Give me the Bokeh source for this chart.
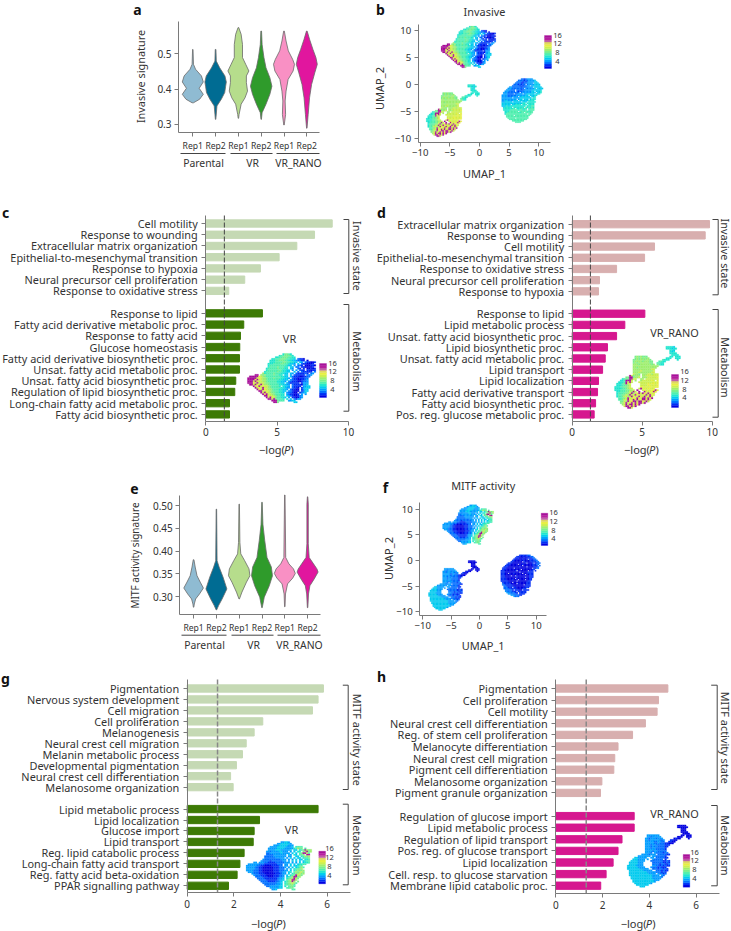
from bokeh.plotting import figure
from bokeh.layouts import column, row
from bokeh.models import Range1d, FixedTicker, Label, LinearColorMapper, ColumnDataSource, PrintfTickFormatter
from bokeh.embed import file_html
from bokeh.resources import INLINE

FONT = "Noto Sans"
INK = "#333333"
AXIS = "#7a7a7a"

# ---------- violin data (signature value, half width) ----------
GROUPS = ["Parental", "VR", "VR_RANO"]
REPS = ["Rep1", "Rep2", "Rep1", "Rep2", "Rep1", "Rep2"]
VIOLIN_COLORS = ["#8FBBD2", "#006C93", "#B6DD8C", "#2F9B2B", "#F990C4", "#E1169E"]

INV_VALS = [
    [.512, .470, .456, .437, .420, .402, .385, .371, .361],
    [.512, .479, .460, .437, .420, .408, .390, .371, .352, .314],
    [.574, .555, .526, .489, .470, .451, .437, .418, .394, .375, .357, .328, .317],
    [.564, .526, .489, .460, .432, .408, .385, .357, .333, .314],
    [.564, .536, .508, .484, .470, .451, .427, .394, .366, .328, .298],
    [.564, .541, .512, .489, .470, .446, .413, .375, .328, .289],
]
INV_WIDTHS = [
    [.01, .03, .12, .38, .46, .28, .46, .30, .03],
    [.015, .03, .18, .41, .47, .44, .40, .25, .06, .01],
    [.015, .12, .18, .18, .32, .46, .35, .35, .40, .29, .12, .03, .01],
    [.015, .04, .12, .21, .38, .47, .38, .21, .04, .01],
    [.015, .09, .19, .38, .46, .40, .18, .09, .05, .07, .01],
    [.015, .12, .27, .40, .46, .35, .21, .12, .06, .01],
]
MITF_VALS = [
    [.381, .365, .346, .332, .319, .306, .295, .284, .277],
    [.492, .379, .365, .343, .317, .295, .281, .271],
    [.503, .419, .394, .379, .361, .346, .332, .310, .295],
    [.507, .459, .423, .386, .365, .346, .324, .299, .276],
    [.523, .386, .372, .361, .351, .341, .328, .306, .278],
    [.519, .503, .416, .386, .372, .361, .354, .339, .324, .306, .276],
]
MITF_WIDTHS = [
    [.015, .07, .15, .29, .43, .26, .09, .03, .01],
    [.01, .03, .12, .29, .46, .25, .10, .01],
    [.01, .03, .07, .24, .43, .47, .32, .12, .01],
    [.01, .04, .12, .22, .41, .46, .32, .10, .01],
    [.01, .04, .18, .38, .46, .35, .12, .03, .01],
    [.01, .03, .03, .07, .26, .41, .46, .29, .10, .04, .01],
]

# ---------- bar data ----------
C_TERMS_A = ["Cell motility", "Response to wounding", "Extracellular matrix organization",
             "Epithelial-to-mesenchymal transition", "Response to hypoxia",
             "Neural precursor cell proliferation", "Response to oxidative stress"]
C_VALUES_A = [8.86, 7.62, 6.38, 5.14, 3.83, 2.73, 1.61]
C_TERMS_B = ["Response to lipid", "Fatty acid derivative metabolic proc.", "Response to fatty acid",
             "Glucose homeostasis", "Fatty acid derivative biosynthetic proc.",
             "Unsat. fatty acid metabolic proc.", "Unsat. fatty acid biosynthetic proc.",
             "Regulation of lipid biosynthetic proc.", "Long-chain fatty acid metabolic proc.",
             "Fatty acid biosynthetic proc."]
C_VALUES_B = [3.97, 2.66, 2.43, 2.38, 2.36, 2.36, 2.10, 2.03, 1.66, 1.66]

D_TERMS_A = ["Extracellular matrix organization", "Response to wounding", "Cell motility",
             "Epithelial-to-mesenchymal transition", "Response to oxidative stress",
             "Neural precursor cell proliferation", "Response to hypoxia"]
D_VALUES_A = [9.81, 9.5, 5.88, 5.17, 3.17, 1.95, 1.88]
D_TERMS_B = ["Response to lipid", "Lipid metabolic process", "Unsat. fatty acid biosynthetic proc.",
             "Lipid biosynthetic proc.", "Unsat. fatty acid metabolic proc.", "Lipid transport",
             "Lipid localization", "Fatty acid derivative transport", "Fatty acid biosynthetic proc.",
             "Pos. reg. glucose metabolic proc."]
D_VALUES_B = [5.19, 3.76, 3.17, 2.52, 2.36, 2.17, 1.88, 1.81, 1.67, 1.57]

G_TERMS_A = ["Pigmentation", "Nervous system development", "Cell migration", "Cell proliferation",
             "Melanogenesis", "Neural crest cell migration", "Melanin metabolic process",
             "Developmental pigmentation", "Neural crest cell differentiation", "Melanosome organization"]
G_VALUES_A = [5.84, 5.61, 5.37, 3.24, 2.87, 2.53, 2.37, 2.11, 1.86, 1.97]
G_TERMS_B = ["Lipid metabolic process", "Lipid localization", "Glucose import", "Lipid transport",
             "Reg. lipid catabolic process", "Long-chain fatty acid transport",
             "Reg. fatty acid beta-oxidation", "PPAR signalling pathway"]
G_VALUES_B = [5.61, 3.10, 2.87, 2.83, 2.44, 2.26, 2.14, 1.77]

H_TERMS_A = ["Pigmentation", "Cell proliferation", "Cell motility", "Neural crest cell differentiation",
             "Reg. of stem cell proliferation", "Melanocyte differentiation", "Neural crest cell migration",
             "Pigment cell differentiation", "Melanosome organization", "Pigment granule organization"]
H_VALUES_A = [4.79, 4.39, 4.33, 3.83, 3.28, 2.66, 2.52, 2.48, 1.97, 1.91]
H_TERMS_B = ["Regulation of glucose import", "Lipid metabolic process", "Regulation of lipid transport",
             "Pos. reg. of glucose transport", "Lipid localization", "Cell. resp. to glucose starvation",
             "Membrane lipid catabolic proc."]
H_VALUES_B = [3.35, 3.35, 2.83, 2.66, 2.45, 2.15, 1.92]

GREEN_LIGHT, GREEN_DARK = "#C5D9B4", "#3D7A05"
ROSE_LIGHT, ROSE_DARK = "#D8AFAF", "#D6178F"

# ---------- UMAP maps: score per quarter-unit cell, read by eye (2..9, a..g = 10..16) ----------
INV_TOP = [
    "                     79987",
    "                   78899987",
    "                 77889998877",
    "               7788899988776 4332",
    "              7778899988776654433 2",
    "              777888899887766 65 433223",
    "             777888899887665 6 4332223",
    "             7888888888766 5 443 222332",
    "             78888988877 66 44 3322223",
    "            788888988877 65  43 3 22323",
    "            7888888987766 5 5 433 33233",
    "           78888889887766  6 4 433333 4",
    "          a7888898887766 65 4333343 45",
    "      gg a9a888898877 66 5 433333 445",
    "   gggggcba9888888887766 64333223344",
    "  gggggbcbaa9888988877665 433233344",
    "  ggggcgbbaa988888877666 5433223345",
    "  gggbgcbbaa98888877665 54333223445",
    "  gggcbgbbba9988887766 6433333 3555",
    "   ggbgcbgbaa988888776655 433332556",
    "     gbcgbcbba988887 7665 43333 5566",
    "      gbcbgbba98888877655 4332 35666",
    "       gcbgcbaa988877665 43322 3566",
    "        ggbcbba98887766 543222 3466",
    "         gbgcba9988776 544322 3456",
    "          gcgbba988877 5433223 5 5",
    "           ggcbba98877 654322345",
    "            gbgcb988776 5 332245",
    "             ggbg98887 7 6 4355",
    "               ggg9888  5566",
    "                gg9        66",
]
INV_BOT = [
    "                              77776",
    "                              777677",
    "                                776",
    "                                767",
    "                                7777",
    "                                 7777",
    "             9a9a999            77 777",
    "             9a9a9a9a         777  777",
    "            99a9aa9aa9      8777    7",
    "            9aaaa9aaa99   8877",
    "            9a9aaaaaa99  8877",
    "            aaa9aaaaaa9a 9877",
    "            aaaaaaaaaaaaaa",
    "            aa9aaaaaaaaaa",
    "            aaaaaaaaaabb",
    "            aaaabaaaaaab",
    "            aaabaaaaaabb",
    "            baa9 aaabbabbb",
    "          gb9aaa aabbbbbbb",
    "        99gg9aab aaabbbbbc",
    "      7899ggbb  aa bbbbbbb",
    "     778gggb a  abbbbbcb c",
    "    7778gbgb   bbbbbbbbcbc",
    "   77789gbb     bbbbcbccbc",
    "   777889ab     bbbbccbcbc",
    "  7778899ab     ccbcbccbcc",
    "  7777889abb   bgbcbccbc",
    "  77788899aab g  bcbcbccgc",
    "   7788899bagb g  gcbccgc",
    "   788899abgabcgbgcbgcbc",
    "   78899bagbbgcbbbcgbgcb",
    "   7889bbabgcbbgcbgbcgb",
    "    8899bgbbcbgcbggbgcg",
    "    889bbgcbgcgbbggcgb",
    "     99bagbcggbggcbgb",
    "     9abgbcgbgcggbg",
    "      abgbggcgcg",
    "       bggcgbg",
    "         ggb",
]
INV_RIGHT = [
    "             44345555",
    "           444434455556",
    "          44443434555566",
    "         444433445555 666",
    "        44434344 455556666",
    "       444443434455 566666",
    "     5544444434445555 66666",
    "    55544444444 5455556 6666",
    "   555444 44434455555666666",
    "  5554444 434445555566 6667",
    " 55544444444 4555555666 667",
    " 5554444 44555 5566666 667",
    "555544444455555566 66667",
    "55554445555 5666666 667",
    "5555555 555566666666 77",
    "5555555555 566 666 6777",
    "55665555666 6666667777",
    "5566666 66666 666 77777",
    "6666666666666677 77777",
    "666666 667777 777 7777",
    "6667667777777777 77788",
    " 677777 7777777 878787",
    " 77777778 7778787 7888",
    " 7777788888788778 8888",
    "  777888888 888888788",
    "  7788888888788 88888",
    "  788888888888888 88",
    "   88888 8888888888",
    "   888888888888888",
    "    88888 88888888",
    "     888888888888",
    "       88888888",
    "         8888",
]
MITF_TOP = [
    "                     55665",
    "                   55666665",
    "                 55566666555",
    "               5555666665556 7888",
    "              5555566665555578a99 8",
    "              5555666555556 66 789ga9a",
    "             554555566555 5 6 77 9ag9a",
    "             4455555565555 6 6 89ggb8",
    "             44445555555 65 76 899 gg",
    "            444445555555 55  66 78a9a",
    "            44444455555 5 6 6 66 7889",
    "           5444444444555 5 5 6 66 778",
    "          54444344444455 5 6 6 6 6788",
    "      55 55544333344444555 5 5 6 6778",
    "   5555554443333333444 55 6 6 67788",
    "  55555544332222333344 55 6 66788",
    "  5555544332222223334445 5 6 678a8",
    "  555554433222222333444 5 6 7889a",
    "  55554443322222233344455 6 78a99a",
    "   555444332222223334455 67 8a9ab9",
    "     5444333222222333455 6 789ab9a",
    "      54443332222333445 6 789gba9",
    "       4444333222333445 678agg9a",
    "        444433333334556 789agb9",
    "         44443333334556 89bgga",
    "          444433334456 789aga 9",
    "           44444444556 789aba8",
    "            4444445556 8899a8",
    "             445555566 7 8998",
    "               5555566  8899",
    "                556        88",
]
MITF_BOT = [
    "                              22222",
    "                              222222",
    "                                222",
    "                                222",
    "                                2222",
    "                                 2222",
    "             5555555            22 222",
    "             55455555         222  222",
    "            5545554555      2322    2",
    "            55455555445   3322",
    "            55555445544  3322",
    "            5555544544433222",
    "            55545544444333",
    "            5554545444433",
    "            555455444443",
    "            555555444443",
    "            555545544444",
    "            5554 54444344",
    "          55554555 4444433",
    "        5555555 55444443",
    "      6655555  55 4444433",
    "     6665555 5  544444 3",
    "    66665555   44444443343",
    "   66666555     4444443343",
    "   66666555     4444344334",
    "  666665555     5544343433",
    "  6666665555   544434333",
    "  666666655555  444344343",
    "   6666666655555  4443433",
    "   666666666655555444343",
    "   666666666665555 54434",
    "   66666666666665555 54",
    "    666666666666555554",
    "    66666666666655555",
    "     666666666666555",
    "     6666666666665",
    "      6666666665",
    "       6666666",
    "         666",
]
MITF_RIGHT = [
    "             33333344",
    "           333232333344",
    "          33322232233344",
    "         3323223223 33344",
    "        332222323222333344",
    "       33222222 32222333344",
    "     3332222222223 2223 3344",
    "    33322222 22322222233344",
    "   333222222222 2222223333 4",
    "  3332222222232222 22223334",
    " 33322222 222222222222 3344",
    " 3332222222222 222222233",
    "33322222223 2222222 233 3",
    "3332222222222 222223333",
    "33322 222322222 2223333",
    "33322222222222222 22333",
    "3332222 22 222222222333",
    "33322222222322222 22333",
    "3333222222 22222222233",
    "333322223222 2222 2233",
    "33333222222 222222233",
    " 3333322 222222222333",
    " 4333332222 322222333",
    " 443333322222222 2333",
    "  4433333222222223333",
    "  444333 33222222333",
    "  4444333332222333",
    "   444443 33322 3333",
    "   54444333 333333",
    "    55444433 33333",
    "     5544443 3333",
    "       55444433",
    "         5444",
]
TOP_ORIGIN, BOT_ORIGIN, RIGHT_ORIGIN = (-6.875, 10.75), (-9.375, -0.125), (3.875, 1.0)
CELL = 0.25
CBAR_LEVELS = list(range(2, 17))
CBAR_LABELS = ["16", "12", "8", "4"]
PALETTE = ["#0000E0", "#0030F5", "#0070FF", "#00A0FF", "#00CCF0", "#20E8D0", "#50F0B0", "#78F090",
           "#A0F070", "#CCF050", "#E8F040", "#E0D860", "#C060A8", "#B8209F", "#A8109A"]
MAPPER = LinearColorMapper(palette=PALETTE, low=2, high=16)
LEVELS = {c: i for i, c in enumerate("0123456789abcdefg")}


class Panel:
    """A figure whose frame fills its cell; axes sit at fixed locations inside it."""

    def __init__(self, cell, axes_at, xmap, ymap):
        self.xmap, self.ymap = xmap, ymap
        cl, ct, cr, cb = cell
        self.cell = cell
        self.p = figure(width=cr - cl, height=cb - ct,
                        x_range=Range1d((cl - xmap[0]) / xmap[1], (cr - xmap[0]) / xmap[1]),
                        y_range=Range1d((ymap[0] - cb) / ymap[1], (ymap[0] - ct) / ymap[1]),
                        min_border_left=0, min_border_right=0, min_border_top=0, min_border_bottom=0,
                        toolbar_location=None, output_backend="svg", outline_line_color=None)
        self.p.grid.visible = False
        for ax in (self.p.xaxis[0], self.p.yaxis[0]):
            ax.axis_line_color = AXIS
            ax.major_tick_line_color = AXIS
            ax.major_tick_in = 0
            ax.major_tick_out = 4
            ax.minor_tick_line_color = None
            ax.major_label_text_color = INK
            ax.major_label_text_font = FONT
            ax.major_label_standoff = 3
        self.p.yaxis[0].fixed_location = self.X(axes_at[0])
        self.p.xaxis[0].fixed_location = self.Y(axes_at[1])

    def X(self, px):
        return (px - self.xmap[0]) / self.xmap[1]

    def Y(self, py):
        return (self.ymap[0] - py) / self.ymap[1]

    def text(self, px, py, s, size=10.5, align="center", angle=0, style="normal", color=INK):
        self.p.add_layout(Label(x=self.X(px), y=self.Y(py), text=s, text_font=FONT,
                                text_font_size=f"{size}px", text_align=align, text_baseline="middle",
                                angle=angle, angle_units="deg", text_font_style=style, text_color=color))

    def neglogp(self, cx, cy):
        start = cx - 17.5
        self.text(start, cy, "\u2212log(", 11, "left")
        self.text(start + 25, cy, "P", 11, "left", style="italic")
        self.text(start + 31.6, cy, ")", 11, "left")

    def colorbar(self, x0, x1, y0, y1, label_x, label_ys):
        n = len(CBAR_LEVELS)
        h = (y1 - y0) / n
        src = ColumnDataSource(dict(
            left=[self.X(x0)] * n, right=[self.X(x1)] * n,
            top=[self.Y(y1 - h * i) for i in range(n)],
            bottom=[self.Y(y1 - h * (i + 1)) for i in range(n)], v=CBAR_LEVELS))
        self.p.quad(left="left", right="right", top="top", bottom="bottom", source=src,
                    fill_color={"field": "v", "transform": MAPPER},
                    line_color={"field": "v", "transform": MAPPER}, line_width=0.3)
        for s, y in zip(CBAR_LABELS, label_ys):
            self.text(label_x, y, s, 7.5)

    def umap(self, grids, x_range_name=None, y_range_name=None):
        xs, ys, vs = [], [], []
        for grid, (ox, oy) in grids:
            for r, line in enumerate(grid):
                for c, ch in enumerate(line):
                    if ch != " ":
                        xs.append(ox + CELL * c)
                        ys.append(oy - CELL * r)
                        vs.append(LEVELS[ch])
        kw = {}
        if x_range_name:
            kw = dict(x_range_name=x_range_name, y_range_name=y_range_name)
        src = ColumnDataSource(dict(x=xs, y=ys, v=vs))
        self.p.rect(x="x", y="y", width=CELL, height=CELL, source=src,
                    fill_color={"field": "v", "transform": MAPPER},
                    line_color={"field": "v", "transform": MAPPER}, line_width=0.2, **kw)


def violin_panel(cell, axes_at, xmap, ymap, vals, widths, ticks, fmt, axis_top, rule_y, group_y,
                 spans, group_px, letter, ylabel, ylabel_pos, ylabel_size, x_bounds):
    P = Panel(cell, axes_at, xmap, ymap)
    p = P.p
    for i, (v, w) in enumerate(zip(vals, widths)):
        cx = i + 1
        xs = [cx - a for a in w] + [cx + a for a in reversed(w)]
        ys = list(v) + list(reversed(v))
        p.patch(xs, ys, fill_color=VIOLIN_COLORS[i], line_color="#6a6a6a", line_width=0.8)
    xa, ya = p.xaxis[0], p.yaxis[0]
    xa.ticker = FixedTicker(ticks=[1, 2, 3, 4, 5, 6])
    xa.major_label_overrides = {i + 1: r for i, r in enumerate(REPS)}
    xa.major_label_text_font_size = "8.6px"
    xa.major_label_standoff = 3
    xa.bounds = x_bounds
    ya.ticker = FixedTicker(ticks=ticks)
    ya.formatter = PrintfTickFormatter(format=fmt)
    ya.major_label_text_font_size = "10px"
    ya.bounds = (P.Y(axes_at[1]), P.Y(axis_top))
    for (a, b), g, c in zip(spans, GROUPS, group_px):
        p.line([P.X(a), P.X(b)], [P.Y(rule_y)] * 2, line_color="#444444", line_width=1)
        P.text(c, group_y, g, 10.4)
    P.text(letter[0], letter[1], letter[2], 14, style="bold", color="#111111")
    P.text(ylabel_pos[0], ylabel_pos[1], ylabel, ylabel_size, angle=90)
    return p


def bar_panel(cell, axis_y, x0, sx, first, sp, terms_a, vals_a, terms_b, vals_b, colors, xticks, x_end,
              axis_top, dash, dash_style, brackets, side, letter, inset, xlab):
    P = Panel(cell, (x0, axis_y), (x0, sx), (first, -sp))
    p = P.p
    n = len(terms_a)
    ia = list(range(n))
    ib = [n + 1 + i for i in range(len(terms_b))]
    hgt = 7.3 / sp
    p.hbar(y=ia, right=vals_a, left=0, height=hgt, color=colors[0])
    p.hbar(y=ib, right=vals_b, left=0, height=hgt, color=colors[1])
    p.line([dash, dash], [P.Y(axis_top), P.Y(axis_y)], line_color=dash_style[0], line_width=dash_style[1],
           line_dash="5 2")
    xa, ya = p.xaxis[0], p.yaxis[0]
    xa.ticker = FixedTicker(ticks=xticks)
    xa.major_label_text_font_size = "10px"
    xa.bounds = (0, x_end)
    ya.ticker = FixedTicker(ticks=ia + ib)
    ya.major_label_overrides = {i: t for i, t in zip(ia + ib, terms_a + terms_b)}
    ya.major_label_text_font_size = "10.9px"
    ya.major_label_standoff = 4
    ya.bounds = (P.Y(axis_y), P.Y(axis_top))
    for (a, b, top, bot) in brackets:
        p.line([P.X(a), P.X(b), P.X(b), P.X(a)], [P.Y(top), P.Y(top), P.Y(bot), P.Y(bot)],
               line_color="#444444", line_width=1)
    for (sx_, sy_, s) in side:
        P.text(sx_, sy_, s, 10.9, angle=-90)
    P.text(letter[0], letter[1], letter[2], 14, style="bold", color="#111111")
    # inset UMAP on its own scales
    grid, origin, (ux0, usx, uy0, usy), name, name_pos, cbar = inset
    cl, ct, cr, cb = cell
    p.extra_x_ranges["u"] = Range1d((cl - ux0) / usx, (cr - ux0) / usx)
    p.extra_y_ranges["u"] = Range1d((uy0 - cb) / usy, (uy0 - ct) / usy)
    P.umap([(grid, origin)], "u", "u")
    P.text(name_pos[0], name_pos[1], name, 10.9)
    P.colorbar(*cbar)
    P.neglogp(*xlab)
    return p


def umap_panel(cell, axes_at, xmap, ymap, grids, title, title_pos, axis_end, axis_top,
               lab1, lab2, letter, cbar):
    P = Panel(cell, axes_at, xmap, ymap)
    p = P.p
    P.umap(grids)
    xa, ya = p.xaxis[0], p.yaxis[0]
    minus = {-10: "\u221210", -5: "\u22125"}
    xa.ticker = FixedTicker(ticks=[-10, -5, 0, 5, 10])
    ya.ticker = FixedTicker(ticks=[-10, -5, 0, 5, 10])
    xa.major_label_overrides = minus
    ya.major_label_overrides = minus
    xa.major_label_text_font_size = "9.6px"
    ya.major_label_text_font_size = "9.6px"
    xa.bounds = (P.X(axes_at[0]), P.X(axis_end))
    ya.bounds = (P.Y(axes_at[1]), P.Y(axis_top))
    P.text(title_pos[0], title_pos[1], title, 10.9)
    P.text(lab1[0], lab1[1], "UMAP_1", 11)
    P.text(lab2[0], lab2[1], "UMAP_2", 11, angle=90)
    P.text(letter[0], letter[1], letter[2], 14, style="bold", color="#111111")
    P.colorbar(*cbar)
    return p


a = violin_panel((0, 0, 370, 200), (178, 132), (169.5, 22.8), (229.7, 353), INV_VALS, INV_WIDTHS,
                 [0.3, 0.4, 0.5], "%.1f", 21, 153, 162,
                 [(180, 225), (230, 272), (276, 319)], [203, 252, 298], (137, 9, "a"),
                 "Invasive signature", (140, 76), 10.9, (0.373, 6.557))

b = umap_panel((370, 0, 731, 200), (417.7, 141.7), (479, 5.92), (84, 5.37),
               [(INV_TOP, TOP_ORIGIN), (INV_BOT, BOT_ORIGIN), (INV_RIGHT, RIGHT_ORIGIN)],
               "Invasive", (484, 11), 550, 24, (484, 173), (379, 88), (380, 9, "b"),
               (544, 551, 35, 68, 557, [34.5, 43, 51.7, 60.7]))

c = bar_panel((0, 200, 370, 460), 420.7, 205.3, 14.27, 223, 11.23,
              C_TERMS_A, C_VALUES_A, C_TERMS_B, C_VALUES_B, (GREEN_LIGHT, GREEN_DARK), [0, 5, 10], 10,
              215, 1.3, ("#444444", 1),
              [(343, 348.3, 219, 293), (343, 348.3, 304, 410.7)],
              [(357, 255.5, "Invasive state"), (357, 361, "Metabolism")], (5, 212, "c"),
              (INV_TOP, TOP_ORIGIN, (295, 7.4, 422.5, 6.4), "VR", (289, 338),
               (319, 326, 363, 397, 332, [363, 371.3, 380.3, 389])), (276, 449))

d = bar_panel((370, 200, 731, 460), 420.7, 571.7, 14, 223.7, 11.19,
              D_TERMS_A, D_VALUES_A, D_TERMS_B, D_VALUES_B, (ROSE_LIGHT, ROSE_DARK), [0, 5, 10], 10,
              215, 1.3, ("#444444", 1),
              [(712, 717.7, 219, 294.3), (712, 717.7, 309, 416.7)],
              [(724.5, 253, "Invasive state"), (724.5, 367, "Metabolism")], (381, 212, "d"),
              (INV_BOT, BOT_ORIGIN, (680, 7.33, 345.7, 6.4), "VR_RANO", (674, 332),
               (671, 678, 374, 407, 684, [371, 380, 388.7, 397.3])), (641, 449))

e = violin_panel((0, 460, 370, 665), (179.3, 614), (170.3, 22.8), (733, 456), MITF_VALS, MITF_WIDTHS,
                 [0.30, 0.35, 0.40, 0.45, 0.50], "%.2f", 495, 634.7, 644,
                 [(181, 226), (231, 273), (277, 320)], [204, 253, 299], (134, 488, "e"),
                 "MITF activity signature", (134.7, 555), 10, (0.393, 6.56))

f = umap_panel((370, 460, 731, 665), (419.3, 614.7), (479, 5.67), (560, 5.13),
               [(MITF_TOP, TOP_ORIGIN), (MITF_BOT, BOT_ORIGIN), (MITF_RIGHT, RIGHT_ORIGIN)],
               "MITF activity", (482.7, 485), 545.7, 502.3, (482.7, 645), (388, 558), (385, 487, "f"),
               (540.7, 547.3, 512.7, 545, 553, [512, 521, 529.7, 538.3]))

g = bar_panel((0, 665, 370, 931), 892.3, 186.7, 23.33, 688, 10.96,
              G_TERMS_A, G_VALUES_A, G_TERMS_B, G_VALUES_B, (GREEN_LIGHT, GREEN_DARK), [0, 2, 4, 6], 7,
              679, 1.3, ("#888888", 1.5),
              [(342.3, 347.7, 684.7, 789), (342.3, 347.7, 803.7, 884.3)],
              [(356.7, 739.3, "MITF activity state"), (356.7, 845, "Metabolism")], (5, 678, "g"),
              (MITF_TOP, TOP_ORIGIN, (293, 7.3, 909.4, 6.3), "VR", (291, 829.3),
               (318.3, 325, 850.7, 883.3, 329, [847.7, 857.3, 866, 875])), (268, 923))

h = bar_panel((370, 665, 731, 931), 893.3, 555.3, 23.4, 688, 11.6,
              H_TERMS_A, H_VALUES_A, H_TERMS_B, H_VALUES_B, (ROSE_LIGHT, ROSE_DARK), [0, 2, 4, 6], 7,
              679, 1.3, ("#888888", 1.5),
              [(710.7, 716.7, 684.7, 789), (710.7, 716.7, 805, 885.3)],
              [(724.5, 737.3, "MITF activity state"), (724.5, 845, "Metabolism")], (381, 676, "h"),
              (MITF_BOT, BOT_ORIGIN, (691, 7.15, 824.4, 6.4), "VR_RANO", (674, 812.7),
               (682.7, 689.3, 854, 886.7, 694, [851.7, 860.3, 869, 878])), (637.7, 923))

root = column(row(a, b, spacing=0), row(c, d, spacing=0), row(e, f, spacing=0), row(g, h, spacing=0), spacing=0,
              styles={"position": "absolute", "left": "0px", "top": "0px"})

open("out.html", "w").write(file_html(root, INLINE))
